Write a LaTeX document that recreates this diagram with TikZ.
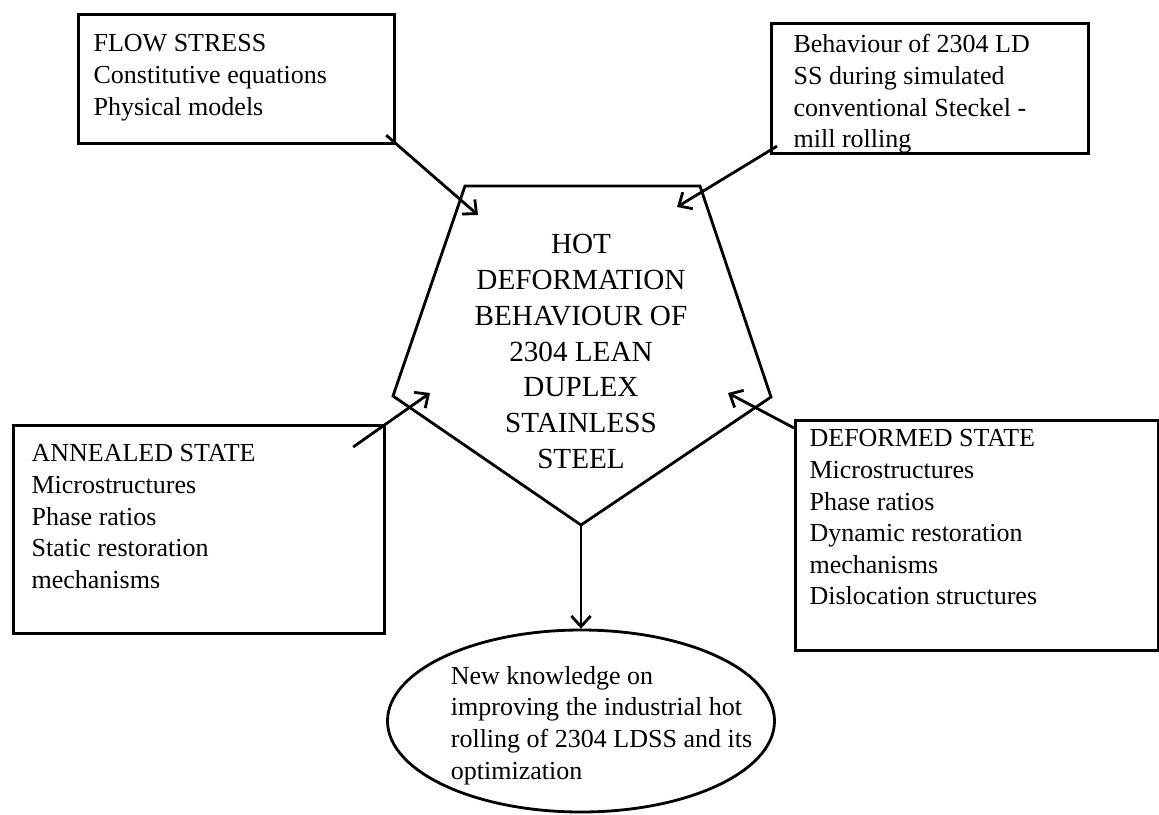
\documentclass[tikz,border=0pt]{standalone}
\usepackage{fontspec}
\setmainfont{Liberation Serif}
\usetikzlibrary{shapes,arrows.meta,positioning,calc}

% text block of a box: height, width, lines
\newcommand{\boxtext}[3]{\parbox[t][#1][t]{#2}{#3}}

\begin{document}
\begin{tikzpicture}[
      box/.style={rectangle, draw, line width=1.8pt, anchor=north west,
                  font=\fontsize{14.8}{18}\selectfont},
      oval/.style={ellipse, draw, line width=1.6pt, minimum width=7.74cm,
                   minimum height=3.64cm, inner sep=0pt},
      arrow/.style={-{Straight Barb[length=6pt,width=11pt]}, line width=1.6pt},
    ]
    \useasboundingbox (0,0) rectangle (23.18,-16.28);

    \node[box, inner xsep=0.30cm, inner ysep=0.40cm] (flow) at (1.54,-0.26)
      {\boxtext{1.78cm}{5.72cm}{FLOW STRESS\\Constitutive equations\\Physical models}};
    \node[box, inner xsep=0.44cm, inner ysep=0.22cm] (behav) at (15.40,-0.44)
      {\boxtext{2.16cm}{5.46cm}{Behaviour of 2304 LD\\SS during simulated\\conventional Steckel -\\mill rolling}};
    \node[box, inner xsep=0.36cm, inner ysep=0.38cm] (anneal) at (0.24,-8.48)
      {\boxtext{3.40cm}{6.70cm}{ANNEALED STATE\\Microstructures\\Phase ratios\\Static restoration\\mechanisms}};
    \node[box, inner xsep=0.28cm, inner ysep=0.18cm] (deform) at (15.88,-8.38)
      {\boxtext{4.24cm}{6.70cm}{DEFORMED STATE\\Microstructures\\Phase ratios\\Dynamic restoration\\mechanisms\\Dislocation structures}};

    % central pentagon
    \coordinate (tl) at (9.30,-3.72);
    \coordinate (tr) at (14.00,-3.72);
    \coordinate (rt) at (15.42,-7.94);
    \coordinate (bt) at (11.62,-10.50);
    \coordinate (lf) at (7.86,-7.92);
    \draw[line width=1.6pt, line join=miter] (tl) -- (tr) -- (rt) -- (bt) -- (lf) -- cycle;
    \node[align=center, font=\fontsize{16.6}{20.4}\selectfont] (hot) at (11.62,-7.03)
      {HOT\\DEFORMATION\\BEHAVIOUR OF\\2304 LEAN\\DUPLEX\\STAINLESS\\STEEL};

    \node[oval] (know) at (11.62,-14.42) {};
    \node[align=left, font=\fontsize{14.8}{18}\selectfont] (knowtxt) at (12.03,-14.51)
      {New knowledge on\\improving the industrial hot\\rolling of 2304 LDSS and its\\optimization};

    % arrow tips inside the pentagon
    \coordinate (tipA) at (9.56,-4.30);
    \coordinate (tipB) at (13.54,-4.14);
    \coordinate (tipC) at (8.60,-7.86);
    \coordinate (tipD) at (14.56,-7.86);

    \draw[arrow] ([shift={(-0.20,0.20)}]flow.south east) -- (tipA);
    \draw[arrow] ([shift={(0.14,0.18)}]behav.south west) -- (tipB);
    \draw[arrow] ([shift={(-0.66,-0.46)}]anneal.north east) -- (tipC);
    \draw[arrow] ([shift={(0,-0.18)}]deform.north west) -- (tipD);
    \draw[arrow] (bt) -- (know.north);
  \end{tikzpicture}
\end{document}
